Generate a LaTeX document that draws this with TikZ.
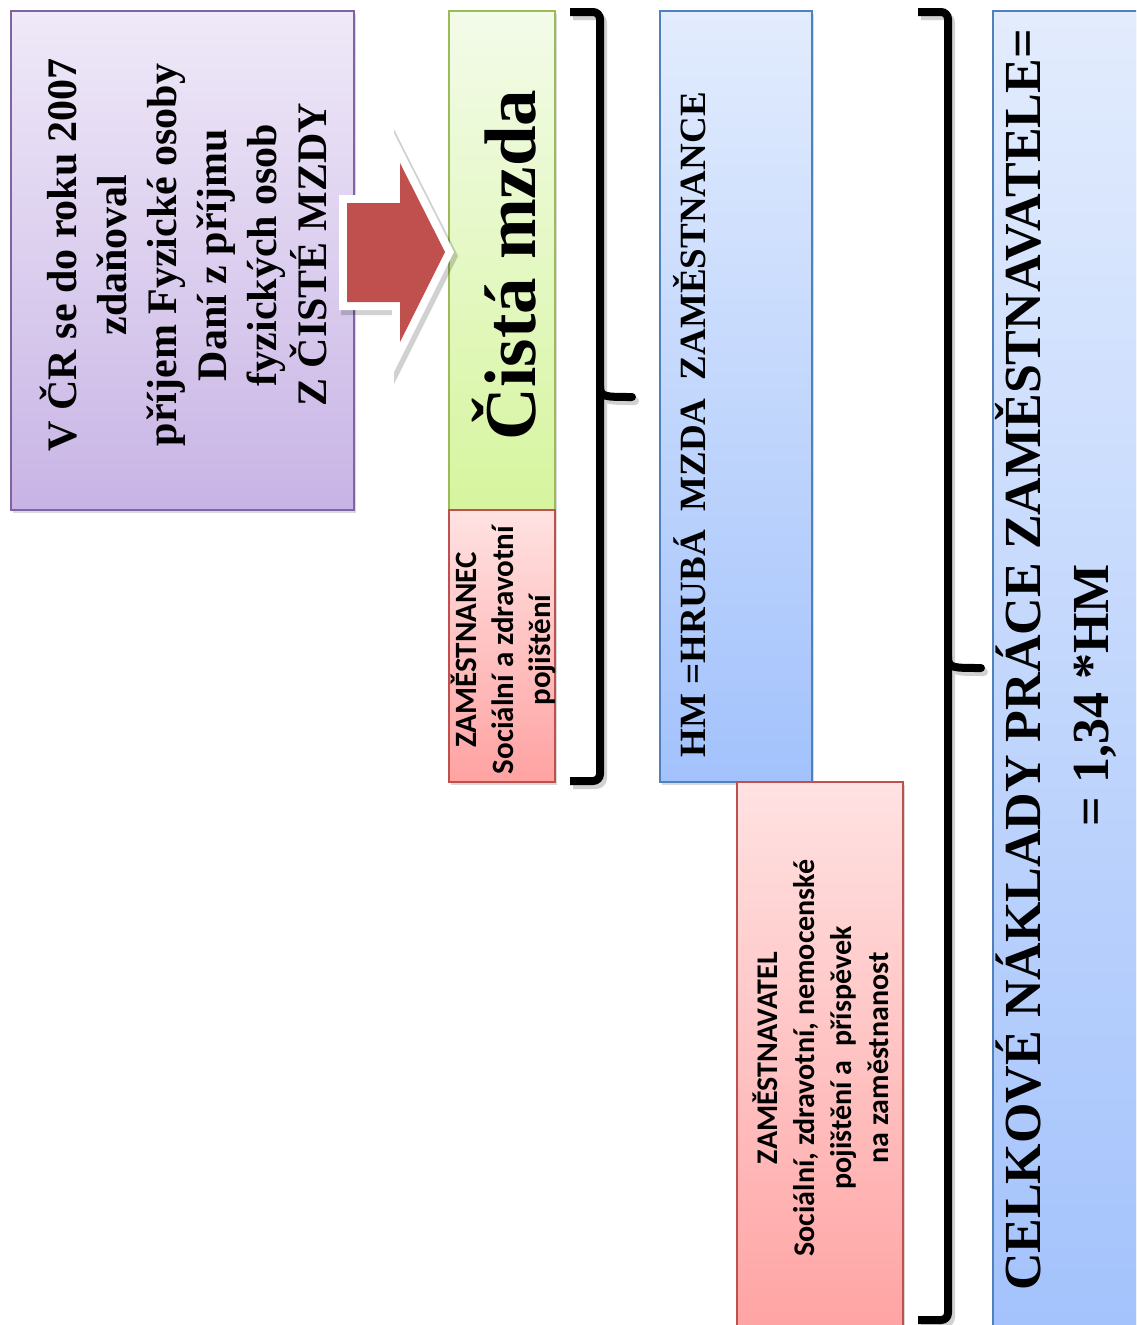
\documentclass[tikz,border=0pt]{standalone}
\usepackage{fontspec}
\setmainfont{Liberation Serif}
\newfontfamily\calfont{Carlito}
\usetikzlibrary{shadows,positioning}
\definecolor{fdoline}{RGB}{128,100,162}
\definecolor{fdotop}{RGB}{239,233,248}
\definecolor{fdobot}{RGB}{200,180,229}
\definecolor{netline}{RGB}{155,187,89}
\definecolor{nettop}{RGB}{243,251,233}
\definecolor{netbot}{RGB}{214,245,158}
\definecolor{insline}{RGB}{192,80,77}
\definecolor{instop}{RGB}{255,226,226}
\definecolor{insbot}{RGB}{255,162,162}
\definecolor{hmline}{RGB}{79,129,189}
\definecolor{hmtop}{RGB}{226,236,253}
\definecolor{hmbot}{RGB}{163,194,252}
\definecolor{arrowred}{RGB}{192,80,77}

\tikzset{
  box/.style={draw, line width=1.3pt, inner sep=0pt, outer sep=0pt,
    drop shadow={shadow xshift=2pt, shadow yshift=-3pt, opacity=.3}},
  fdobox/.style={box, draw=fdoline, top color=fdotop, bottom color=fdobot},
  netbox/.style={box, draw=netline, top color=nettop, bottom color=netbot},
  insbox/.style={box, draw=insline, top color=instop, bottom color=insbot},
  hmbox/.style={box, draw=hmline, top color=hmtop, bottom color=hmbot},
  serifbig/.style n args={2}{rotate=90, align=center, inner sep=0pt, font={\bfseries\fontsize{#1}{#2}\selectfont}},
  sanstext/.style n args={2}{rotate=90, align=center, inner sep=0pt, font={\calfont\bfseries\fontsize{#1}{#2}\selectfont}},
  bigarrow/.style={fill=arrowred,
    preaction={draw=black, opacity=.18, line width=18pt, line join=miter,
      transform canvas={shift={(3pt,-4pt)}}},
    preaction={draw=white, line width=16pt, line join=miter}},
  bracket/.style={draw=black, line width=8pt, rounded corners=7pt},
  bracketshade/.style={bracket, draw=black!18, shift={(3,4)}}
}

\begin{document}
\begin{tikzpicture}[x=1pt,y=-1pt]
\useasboundingbox (0,0) rectangle (1136,1325);
\clip (0,0) rectangle (1136,1325);

% boxes
\node[fdobox, minimum width=343pt, minimum height=499pt] (fdo) at (182.5,260.5) {};
\node[netbox, minimum width=106pt, minimum height=499pt] (cista) at (502,260.5) {};
\node[insbox, minimum width=106pt, minimum height=272pt, below=0pt of cista] (zamec) {};
\node[hmbox, minimum width=152pt, minimum height=771pt] (hm) at (736,396.5) {};
\node[insbox, minimum width=166pt, minimum height=560pt] (zamel) at (820,1062) {};
\node[hmbox, minimum width=160pt, minimum height=1330pt] (celk) at (1073,676) {};

% arrow from the purple box to the net wage
\path[bigarrow] (347,203) -- (400,203) -- (400,163) -- (445,252)
  -- (400,342) -- (400,302) -- (347,302) -- cycle;

% braces
\draw[bracketshade] (570,12) -- (600,12) -- (600,781) -- (570,781);
\draw[bracketshade, line cap=round] (600,386) .. controls (600,397) and (604,397) .. (632,397);
\draw[bracketshade] (918,12) -- (948,12) -- (948,1320) -- (918,1320);
\draw[bracketshade, line cap=round] (948,657) .. controls (948,668) and (952,668) .. (981,668);
\draw[bracket] (570,12) -- (600,12) -- (600,781) -- (570,781);
\draw[bracket, line cap=round] (600,386) .. controls (600,397) and (604,397) .. (632,397);
\draw[bracket] (918,12) -- (948,12) -- (948,1320) -- (918,1320);
\draw[bracket, line cap=round] (948,657) .. controls (948,668) and (952,668) .. (981,668);

% texts
\node[serifbig={42}{50}] (fdotext) at (183,255)
  {V ČR se do roku 2007\\zdaňoval\\příjem Fyzické osoby\\Daní z příjmu\\fyzických osob\\Z ČISTÉ MZDY};
\node[serifbig={73}{88}, anchor=base] (cistatext) at (535,265) {Čistá mzda};
\node[serifbig={37}{44}, anchor=base] (hmtext) at (705,425) {HM =HRUBÁ\ \ MZDA\ \ ZAMĚSTNANCE};
\node[sanstext={31}{37}] (zamectext) at (503,650)
  {ZAMĚSTNANEC\\Sociální a zdravotní\\pojištění};
\node[sanstext={30}{37}] (zameltext) at (821,1058)
  {ZAMĚSTNAVATEL\\Sociální, zdravotní, nemocenské\\pojištění a\ \ příspěvek\\na zaměstnanost};
\node[serifbig={52}{68}] (celktext) at (1056,660)
  {CELKOVÉ NÁKLADY PRÁCE ZAMĚSTNAVATELE=\\= 1,34 *HM\hspace*{70pt}};
\end{tikzpicture}
\end{document}
